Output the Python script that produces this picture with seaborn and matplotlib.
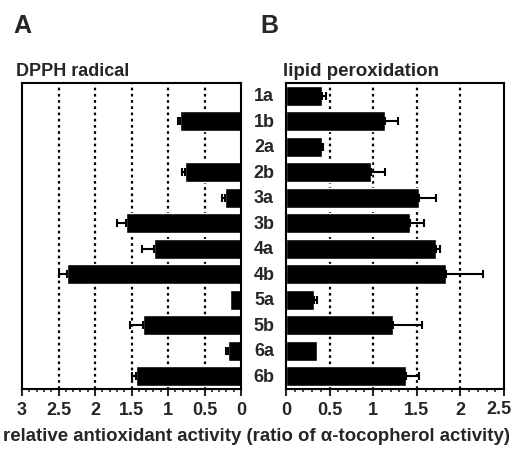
import matplotlib
matplotlib.use("Agg")
import matplotlib.pyplot as plt
import matplotlib.transforms as mtransforms
from matplotlib.ticker import MultipleLocator, FuncFormatter
import pandas as pd
import seaborn as sns

# compounds, top to bottom
compounds = ["1a", "1b", "2a", "2b", "3a", "3b", "4a", "4b", "5a", "5b", "6a", "6b"]

# panel A: DPPH radical scavenging (ratio of alpha-tocopherol activity)
dpph_mean = [0.0, 0.84, 0.0, 0.77, 0.22, 1.58, 1.19, 2.38, 0.15, 1.34, 0.18, 1.44]
dpph_err = [0.0, 0.02, 0.0, 0.04, 0.04, 0.12, 0.17, 0.12, 0.0, 0.18, 0.02, 0.05]

# panel B: lipid peroxidation inhibition
lipid_mean = [0.41, 1.13, 0.41, 0.98, 1.53, 1.42, 1.72, 1.83, 0.32, 1.23, 0.35, 1.38]
lipid_err = [0.05, 0.15, 0.02, 0.16, 0.19, 0.16, 0.05, 0.43, 0.04, 0.33, 0.0, 0.14]

sns.set_theme(style="white")
plt.rcParams["font.family"] = ["Liberation Sans", "DejaVu Sans"]
plt.rcParams["font.weight"] = "bold"
plt.rcParams["axes.labelweight"] = "bold"

df = pd.DataFrame({
    "compound": compounds,
    "pos": range(len(compounds)),
    "dpph": dpph_mean,
    "dpph_err": dpph_err,
    "lipid": lipid_mean,
    "lipid_err": lipid_err,
})

fig = plt.figure(figsize=(5.13, 4.52), dpi=100)
ax_a = fig.add_axes([22 / 513, 1 - 390 / 452, 219 / 513, 306 / 452])
ax_b = fig.add_axes([286 / 513, 1 - 390 / 452, 218 / 513, 306 / 452])


def draw_panel(ax, col, err_col, xmax, grid_vals, skip_label=None):
    sns.barplot(data=df, x=col, y="compound", orient="h", color="black",
                saturation=1, width=0.8, errorbar=None, ax=ax)
    e = df[df[err_col] > 0]
    ax.errorbar(e[col], e["pos"], xerr=[[0] * len(e), e[err_col]],
                fmt="none", ecolor="black", elinewidth=1.5, capsize=3,
                capthick=1.5)
    for g in grid_vals:
        ax.axvline(g, color="black", linestyle=(0, (1.2, 1.6)), linewidth=1.6,
                   zorder=0)
    ax.set_xlim(0, xmax)
    ax.set_ylim(len(df) - 0.5, -0.5)
    ax.xaxis.set_major_locator(MultipleLocator(0.5))
    ax.xaxis.set_minor_locator(MultipleLocator(0.1))
    ax.tick_params(axis="x", which="major", direction="out", length=5,
                   width=1.5, labelsize=13, pad=4, bottom=True)
    ax.tick_params(axis="x", which="minor", direction="out", length=2.5,
                   width=1.2, bottom=True)
    ax.set_yticks([])
    ax.set_xlabel("")
    ax.set_ylabel("")
    ax.xaxis.set_major_formatter(FuncFormatter(
        lambda v, p: "" if skip_label is not None and abs(v - skip_label) < 1e-9
        else f"{v:g}"))
    for s in ax.spines.values():
        s.set_color("black")
        s.set_linewidth(1.5)
    ax.set_facecolor("white")


draw_panel(ax_a, "dpph", "dpph_err", 3, [0.5, 1, 1.5, 2, 2.5])
ax_a.set_xlim(3, 0)
draw_panel(ax_b, "lipid", "lipid_err", 2.5, [0.5, 1, 1.5, 2], skip_label=2.5)

# last right-panel tick label, nudged left so it stays inside the figure
ax_b.annotate("2.5", xy=(2.5, 0), xycoords=("data", "axes fraction"),
              xytext=(-3.5, -(5 / 1.389 + 4)), textcoords="offset points",
              ha="center", va="top", fontsize=13, fontweight="bold")

# compound labels between the panels
trans = mtransforms.blended_transform_factory(fig.transFigure, ax_b.transData)
for i, name in enumerate(compounds):
    fig.text(264 / 513, i, name, transform=trans, ha="center", va="center",
             fontsize=13, fontweight="bold")

fig.text(13 / 513, 1 - 33 / 452, "A", fontsize=18, fontweight="bold")
fig.text(260 / 513, 1 - 33 / 452, "B", fontsize=18, fontweight="bold")
fig.text(16 / 513, 1 - 76 / 452, "DPPH radical", fontsize=13, fontweight="bold")
fig.text(283 / 513, 1 - 76 / 452, "lipid peroxidation", fontsize=13.5,
         fontweight="bold")
fig.text(0.5, 1 - 437 / 452,
         "relative antioxidant activity (ratio of \u03b1-tocopherol activity)",
         ha="center", va="center", fontsize=13.4, fontweight="bold")

fig.savefig("out.png", dpi=100, facecolor="white")
